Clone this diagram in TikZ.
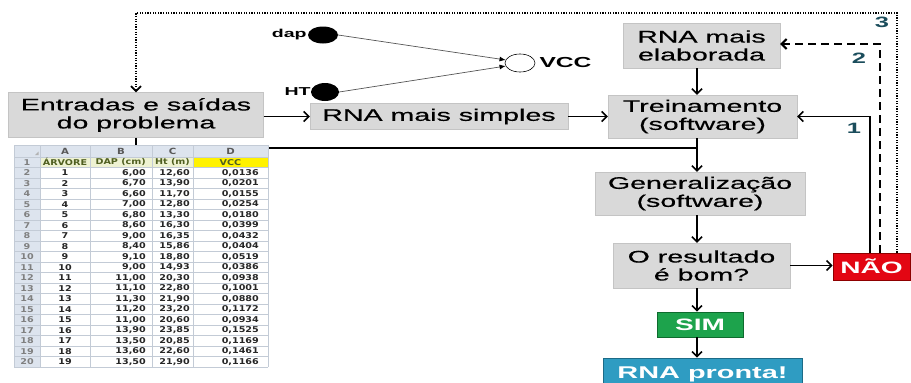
\documentclass[tikz,border=0pt]{standalone}
\usepackage{fontspec}
\setmainfont{Liberation Sans}
\newfontfamily\wf[FakeStretch=1.7, UprightFeatures={FakeBold=0.4}]{Liberation Sans}
\newfontfamily\xlsfont[FakeStretch=1.2]{DejaVu Sans}
\usetikzlibrary{arrows.meta,shapes.geometric,calc}
\definecolor{boxgray}{HTML}{D9D9D9}
\definecolor{boxedge}{HTML}{C4C4C4}
\definecolor{naored}{HTML}{E30613}
\definecolor{naoedge}{HTML}{8E0000}
\definecolor{simgreen}{HTML}{1DA34C}
\definecolor{simedge}{HTML}{0E6B2E}
\definecolor{prontablue}{HTML}{2F9CC2}
\definecolor{prontaedge}{HTML}{1C6B87}
\definecolor{numteal}{HTML}{1B4D5C}
\definecolor{xlshead}{HTML}{DDE4EE}
\definecolor{xlsgrid}{HTML}{C3CBD6}
\definecolor{xlsrow1}{HTML}{EEF2D2}
\definecolor{xlsolive}{HTML}{4F5F20}
\definecolor{nngray}{HTML}{555555}
\newcommand\dc{,}
\tikzset{
  graybox/.style={draw=boxedge, fill=boxgray, inner sep=0pt, align=center,
    font=\wf\fontsize{16.8}{18}\selectfont},
  colbox/.style={inner sep=0pt, align=center, text=white, line width=0.8pt,
    font=\wf\bfseries\fontsize{16.5}{18}\selectfont},
  arr/.style={line width=1.5pt, -{Straight Barb[length=5pt,width=10pt]}},
  dotline/.style={line width=1.8pt, dash pattern=on 1.2pt off 1.4pt},
  dashline/.style={line width=2pt, dash pattern=on 8pt off 5pt},
  looplabel/.style={text=numteal, font=\wf\bfseries\fontsize{15}{15}\selectfont, inner sep=0pt},
  neuron/.style={ellipse, inner sep=0pt},
  nnlabel/.style={inner sep=0pt, font=\wf\bfseries\fontsize{11.5}{12}\selectfont},
  nnarr/.style={draw=nngray, line width=0.7pt, -{Latex[length=6pt,width=5pt,color=black]}},
  cell/.style={inner sep=0pt, font=\xlsfont\bfseries\fontsize{8}{9}\selectfont, text=black!85},
  rownum/.style={inner sep=0pt, font=\xlsfont\bfseries\fontsize{8}{9}\selectfont, text=black!50},
  colhead/.style={inner sep=0pt, font=\xlsfont\bfseries\fontsize{8.5}{9}\selectfont, text=black!65}
}
\begin{document}
\begin{tikzpicture}[x=1pt,y=-1pt]
\useasboundingbox (0,0) rectangle (911,383);

% helper coordinates
\coordinate (top) at (0,13);
\coordinate (mid) at (0,148);
\coordinate (ax) at (697,0);
\coordinate (l1) at (870,0);
\coordinate (l2) at (880,0);
\coordinate (l3) at (897,0);

% boxes
\node[graybox, minimum width=255, minimum height=45] (entr) at (136,115) {Entradas e saídas\\do problema};
\node[graybox, minimum width=258, minimum height=26] (simp) at (439,116.5) {RNA mais simples};
\node[graybox, minimum width=157, minimum height=45] (elab) at (701.5,45.5) {RNA mais\\elaborada};
\node[graybox, minimum width=189, minimum height=43] (trei) at (702.5,116.5) {Treinamento\\(software)};
\node[graybox, minimum width=210, minimum height=43] (gen) at (700,193.5) {Generalização\\(software)};
\node[graybox, minimum width=177, minimum height=45] (res) at (701.5,265.5) {O resultado\\é bom?};
\node[colbox, draw=naoedge, fill=naored, minimum width=77, minimum height=27] (nao) at (871.5,266.5) {NÃO};
\node[colbox, draw=simedge, fill=simgreen, minimum width=86, minimum height=25] (sim) at (700,324.5) {SIM};
\node[colbox, draw=prontaedge, fill=prontablue, minimum width=199, minimum height=32,
      font=\wf\bfseries\fontsize{17}{18}\selectfont] (pronta) at (702.5,374) {RNA pronta!};

% main flow
\draw[arr] (entr.east |- simp.west) -- (simp.west);
\draw[arr] (simp.east) -- (trei.west);
\draw[arr] (elab.south -| ax) -- (trei.north -| ax);
\draw[line width=1.5pt] (entr.south) -- (entr.south |- mid) -- (ax |- mid);
\draw[arr] (trei.south -| ax) -- (gen.north -| ax);
\draw[arr] (gen.south -| ax) -- (res.north -| ax);
\draw[arr] (res.south -| ax) -- (sim.north -| ax);
\draw[arr] (sim.south -| ax) -- (pronta.north -| ax);
\draw[arr] (res.east) -- (res.east -| nao.west);

% feedback loops
\draw[arr] (nao.north -| l1) |- (trei.east);
\draw[dashline, -{Straight Barb[length=5pt,width=10pt]}] (nao.north -| l2) |- ($(elab.east)+(0,-1.5)$);
\draw[dotline, -{Straight Barb[length=5pt,width=10pt]}] (nao.north -| l3) -- (l3 |- top) -- (entr.north |- top) -- (entr.north);
\node[looplabel] (n1) at (854,128) {1};
\node[looplabel] (n2) at (859,58) {2};
\node[looplabel] (n3) at (882,22) {3};

% small network
\node[neuron, fill=black, minimum width=30, minimum height=17] (dapn) at (323,35) {};
\node[neuron, fill=black, minimum width=28, minimum height=18] (htn) at (325,92) {};
\node[neuron, draw=black, line width=0.6pt, fill=white, minimum width=30, minimum height=18] (vcc) at (520,63) {};
\node[nnlabel, anchor=east] (dapl) at ($(dapn.west)+(-1,0)$) {dap};
\node[nnlabel, anchor=east] (htl) at (htn.west) {HT};
\node[nnlabel, anchor=west, font=\wf\bfseries\fontsize{14.5}{15}\selectfont] (vccl) at ($(vcc.east)+(4,0)$) {VCC};
\draw[nnarr] (dapn.east) -- (vcc.168);
\draw[nnarr] (htn.east) -- (vcc.192);

% spreadsheet
\fill[white] (14,145) rectangle (268,367);
\fill[xlshead] (14,145) rectangle (268,157);
\fill[xlshead] (14,157) rectangle (40,367);
\fill[xlsrow1] (40,157) rectangle (193,167.5);
\fill[yellow] (193,157) rectangle (268,167.5);
\foreach \k in {0,...,20} {
  \draw[xlsgrid, line width=0.5pt] (14,{157+\k*10.5}) -- (268,{157+\k*10.5});
}
\draw[xlsgrid, line width=0.5pt] (14,145) -- (268,145);
\foreach \xx in {14,40,90,152,193,268} {
  \draw[xlsgrid, line width=0.5pt] (\xx,145) -- (\xx,367);
}
\fill[black!30] (35,155) -- (38.5,155) -- (38.5,151.5) -- cycle;
\node[colhead] (hA) at (65,151) {A};
\node[colhead] (hB) at (121,151) {B};
\node[colhead] (hC) at (172.5,151) {C};
\node[colhead] (hD) at (230.5,151) {D};
\foreach \k in {1,...,20} {
  \node[rownum] (rn\k) at (27,{157+(\k-0.5)*10.5}) {\k};
}
\node[cell, text=xlsolive] (c1a) at (65,162.25) {ÁRVORE};
\node[cell, text=xlsolive, anchor=east] (c1b) at (146,162.25) {DAP (cm)};
\node[cell, text=xlsolive, anchor=east] (c1c) at (190,162.25) {Ht (m)};
\node[cell, text=xlsolive] (c1d) at (230.5,162.25) {VCC};
\foreach \a/\b/\c/\d [count=\i from 2] in {
  1/6\dc00/12\dc60/0\dc0136,
  2/6\dc70/13\dc90/0\dc0201,
  3/6\dc60/11\dc70/0\dc0155,
  4/7\dc00/12\dc80/0\dc0254,
  5/6\dc80/13\dc30/0\dc0180,
  6/8\dc60/16\dc30/0\dc0399,
  7/9\dc00/16\dc35/0\dc0432,
  8/8\dc40/15\dc86/0\dc0404,
  9/9\dc10/18\dc80/0\dc0519,
  10/9\dc00/14\dc93/0\dc0386,
  11/11\dc00/20\dc30/0\dc0938,
  12/11\dc10/22\dc80/0\dc1001,
  13/11\dc30/21\dc90/0\dc0880,
  14/11\dc20/23\dc20/0\dc1172,
  15/11\dc00/20\dc60/0\dc0934,
  16/13\dc90/23\dc85/0\dc1525,
  17/13\dc50/20\dc85/0\dc1169,
  18/13\dc60/22\dc60/0\dc1461,
  19/13\dc50/21\dc90/0\dc1166} {
  \node[cell] (c\i a) at (65,{157+(\i-0.5)*10.5}) {\a};
  \node[cell, anchor=east] (c\i b) at (146,{157+(\i-0.5)*10.5}) {\b};
  \node[cell, anchor=east] (c\i c) at (190,{157+(\i-0.5)*10.5}) {\c};
  \node[cell, anchor=east] (c\i d) at (259,{157+(\i-0.5)*10.5}) {\d};
}
\end{tikzpicture}
\end{document}
